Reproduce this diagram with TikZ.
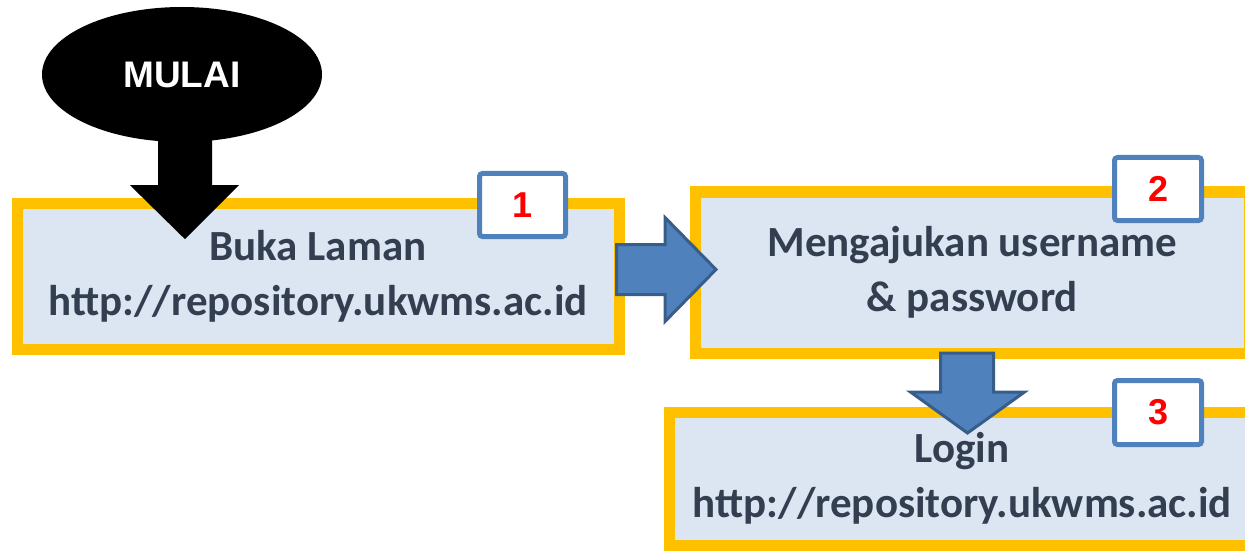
\documentclass[tikz,border=0pt]{standalone}
\usepackage{fontspec}
\usepackage{xcolor}
\usepackage{tikz}
\usetikzlibrary{shapes.geometric,calc}
\setmainfont{Carlito}
\newfontfamily\arialfont{Liberation Sans}
\definecolor{kuning}{HTML}{FFC000}
\definecolor{isikotak}{HTML}{DCE6F2}
\definecolor{teks}{HTML}{333F50}
\definecolor{biru}{HTML}{4F81BD}
\definecolor{birutua}{HTML}{385D8A}

\begin{document}
\begin{tikzpicture}[x=1pt,y=1pt,
	langkah/.style={draw=kuning,line width=11pt,fill=isikotak,text=teks,align=center,inner sep=0pt,font=\fontsize{43}{55}\selectfont\bfseries},
	nomor/.style={draw=biru,line width=5pt,fill=white,rounded corners=3pt,minimum width=86pt,minimum height=63pt,inner sep=0pt,text=red,font=\arialfont\fontsize{36}{36}\selectfont\bfseries},
	panahbiru/.style={fill=biru,draw=birutua,line width=3pt}]
	\useasboundingbox (0,0) rectangle (1245,550);
	
	\node[ellipse,fill=black,minimum width=280pt,minimum height=135pt,inner sep=0pt,text=white,font=\arialfont\fontsize{37}{37}\selectfont\bfseries] (mulai) at (182,475.5) {MULAI\hspace{14pt}};
	
	\node[langkah,minimum width=602pt,minimum height=146pt] (buka) at (318,274) {Buka Laman\\http://repository.ukwms.ac.id};
	\node[langkah,minimum width=553.5pt,minimum height=161pt] (ajukan) at (972.25,277.5) {Mengajukan username\\\& password};
	\node[langkah,minimum width=585.5pt,minimum height=132.5pt] (login) at (962.25,71.25) {Login\\http://repository.ukwms.ac.id};
	
	\fill[black] ($(mulai.south)+(-24,22)$) -- ++(0,-65) -- ++(-28,0) -- ++(55,-54) -- ++(54,54) -- ++(-27,0) -- ++(0,65) -- cycle;
	\draw[panahbiru] ($(buka.east)+(-8,31.5)$) -- ++(48.5,0) -- ++(0,27) -- ++(51,-52) -- ++(-51,-52) -- ++(0,27) -- ++(-48.5,0) -- cycle;
	\draw[panahbiru] ($(ajukan.south)+(-31.75,5.5)$) -- ++(53,0) -- ++(0,-39) -- ++(31,0) -- ++(-57,-41) -- ++(-57,41) -- ++(30,0) -- cycle;
	
	\node[nomor] (n1) at (522.5,345) {1};
	\node[nomor,minimum width=87pt] (n2) at (1158,361) {2};
	\node[nomor,minimum width=87pt,minimum height=64pt] (n3) at (1158,137.5) {3};
\end{tikzpicture}
\end{document}
